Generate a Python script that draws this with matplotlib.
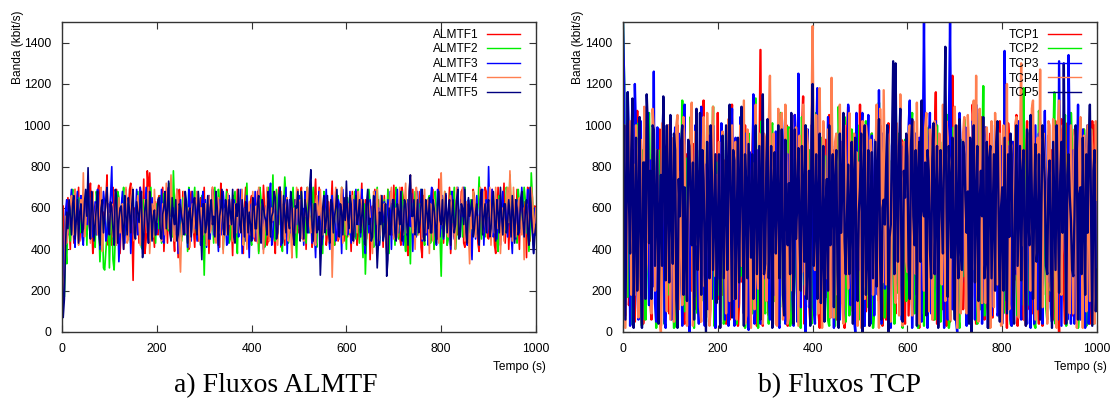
import numpy as np
import matplotlib
matplotlib.use("Agg")
import matplotlib.pyplot as plt

plt.rcParams['font.family'] = ['Liberation Sans', 'DejaVu Sans']

# ---- throughput samples (kbit/s) ----
# "*_a": samples at 0, 5, 10, ..., 1000 s ; "*_b": samples at 2.5, 7.5, ..., 997.5 s
almtf1_a = [60, 340, 590, 520, 660, 430, 610, 700, 560, 470, 640, 590, 720, 380, 520, 680, 610, 450, 560, 760,
            500, 420, 630, 690, 470, 540, 400, 610, 580, 720, 250, 470, 640, 700, 530, 380, 780, 770, 600, 410,
            520, 660, 450, 390, 610, 700, 560, 480, 640, 360, 590, 680, 520, 440, 620, 550, 410, 670, 590, 480,
            700, 530, 380, 600, 650, 470, 560, 720, 430, 510, 640, 580, 370, 620, 690, 500, 450, 600, 540, 410,
            660, 580, 470, 390, 620, 710, 520, 440, 600, 650, 380, 560, 700, 490, 420, 610, 550, 360, 640, 590,
            480, 700, 530, 400, 620, 560, 450, 740, 510, 380, 590, 650, 470, 540, 730, 420, 600, 510, 670, 440,
            560, 620, 390, 530, 680, 470, 590, 400, 640, 560, 350, 610, 690, 520, 440, 580, 660, 380, 500, 620,
            710, 480, 560, 420, 640, 590, 370, 530, 690, 450, 600, 680, 360, 570, 470, 640, 520, 400, 610, 740,
            500, 430, 620, 560, 380, 680, 590, 470, 540, 690, 410, 600, 520, 440, 650, 570, 390, 620, 500, 680,
            450, 610, 560, 380, 700, 520, 600, 430, 660, 560, 480, 610, 690, 400, 540, 630, 360, 580, 660, 420,
            600]
almtf1_b = [610, 480, 650, 400, 560, 690, 520, 440, 620, 580, 470, 660, 540, 430, 600, 710, 490, 580, 640, 420,
            560, 700, 470, 590, 380, 650, 530, 460, 690, 510, 600, 540, 430, 620, 740, 450, 680, 560, 500, 630,
            470, 590, 700, 520, 430, 640, 580, 390, 610, 690, 460, 540, 620, 400, 680, 500, 590, 440, 650, 570,
            430, 620, 560, 700, 480, 590, 410, 640, 560, 690, 450, 530, 660, 470, 580, 620, 380, 700, 500, 630,
            540, 440, 680, 560, 490, 600, 420, 670, 530, 460, 620, 700, 410, 580, 650, 480, 600, 530, 440, 690,
            620, 450, 590, 660, 500, 410, 640, 560, 700, 470, 540, 420, 630, 600, 500, 680, 440, 590, 560, 650,
            460, 540, 680, 610, 420, 590, 720, 520, 450, 650, 580, 480, 540, 640, 590, 410, 520, 690, 600, 470,
            560, 640, 460, 700, 530, 420, 660, 590, 480, 620, 540, 410, 660, 500, 600, 440, 690, 570, 450, 530,
            650, 580, 420, 700, 520, 460, 640, 590, 680, 430, 560, 620, 470, 690, 510, 430, 610, 540, 700, 460,
            580, 690, 420, 540, 610, 470, 720, 560, 400, 630, 590, 460, 540, 650, 480, 580, 700, 440, 530, 610]

almtf2_a = [80, 170, 330, 500, 620, 470, 560, 650, 520, 440, 600, 680, 490, 540, 410, 620, 340, 560, 300, 480,
            310, 600, 300, 520, 650, 560, 700, 470, 590, 430, 620, 540, 680, 470, 400, 590, 640, 510, 450, 560,
            620, 500, 430, 670, 560, 490, 610, 780, 540, 420, 580, 650, 470, 390, 600, 560, 700, 450, 520, 660,
            275, 480, 590, 640, 430, 560, 690, 510, 400, 600, 560, 450, 620, 680, 380, 540, 610, 470, 720, 560,
            420, 600, 530, 380, 640, 590, 460, 700, 520, 760, 440, 580, 650, 390, 750, 560, 470, 620, 540, 360,
            590, 680, 480, 430, 610, 540, 700, 460, 590, 520, 380, 630, 570, 480, 660, 420, 600, 540, 700, 470,
            400, 560, 630, 520, 450, 690, 580, 360, 280, 540, 620, 480, 590, 700, 430, 560, 640, 480, 380, 610,
            560, 700, 450, 520, 600, 390, 560, 330, 620, 680, 470, 540, 610, 420, 580, 660, 500, 400, 590, 640,
            270, 520, 600, 450, 680, 570, 400, 630, 540, 460, 700, 590, 480, 400, 620, 560, 750, 450, 530, 640,
            580, 470, 640, 560, 390, 620, 530, 480, 660, 760, 500, 580, 430, 620, 560, 700, 480, 390, 770, 520,
            590]
almtf2_b = [300, 420, 560, 440, 690, 540, 610, 480, 570, 640, 420, 560, 600, 470, 680, 520, 450, 310, 390, 600,
            520, 350, 460, 680, 540, 610, 470, 620, 520, 690, 450, 600, 530, 410, 640, 560, 480, 700, 610, 430,
            540, 660, 600, 480, 520, 720, 460, 600, 690, 550, 440, 560, 610, 700, 480, 630, 520, 600, 420, 540,
            520, 640, 450, 560, 700, 480, 620, 590, 500, 680, 430, 560, 650, 470, 620, 580, 420, 600, 520, 460,
            650, 480, 590, 700, 520, 410, 640, 560, 600, 480, 690, 520, 460, 610, 650, 430, 580, 700, 470, 590,
            460, 540, 620, 700, 480, 620, 540, 410, 650, 580, 680, 470, 540, 620, 430, 580, 660, 480, 590, 540,
            650, 470, 560, 680, 600, 430, 520, 620, 460, 690, 530, 410, 640, 560, 600, 450, 540, 690, 620, 480,
            420, 620, 580, 680, 460, 640, 500, 590, 460, 560, 620, 690, 470, 560, 640, 430, 600, 680, 520, 460,
            560, 680, 420, 600, 530, 700, 470, 560, 620, 690, 480, 540, 640, 680, 470, 600, 520, 620, 460, 570,
            640, 510, 580, 450, 660, 470, 600, 700, 530, 580, 640, 460, 690, 510, 600, 640, 560, 480, 650, 470]

almtf3_a = [100, 470, 640, 560, 690, 480, 610, 530, 660, 420, 590, 700, 520, 460, 630, 690, 400, 560, 620, 470,
            580, 800, 520, 430, 340, 600, 540, 690, 460, 380, 620, 560, 470, 700, 380, 590, 510, 440, 650, 560,
            480, 620, 690, 430, 540, 700, 450, 600, 520, 380, 640, 560, 480, 410, 620, 680, 500, 440, 590, 630,
            520, 410, 660, 580, 470, 600, 390, 560, 680, 540, 430, 610, 570, 450, 620, 520, 380, 600, 660, 360,
            620, 520, 440, 690, 560, 400, 610, 540, 720, 460, 590, 500, 700, 440, 560, 380, 640, 600, 470, 520,
            660, 540, 420, 600, 480, 690, 570, 360, 520, 620, 460, 590, 540, 400, 660, 580, 470, 620, 380, 560,
            600, 500, 430, 640, 690, 520, 460, 600, 380, 560, 640, 490, 680, 540, 420, 590, 630, 470, 550, 400,
            620, 560, 480, 680, 420, 560, 640, 510, 390, 600, 680, 530, 440, 640, 570, 470, 700, 560, 420, 600,
            540, 450, 660, 580, 400, 620, 520, 700, 460, 560, 620, 420, 580, 350, 600, 660, 480, 560, 420, 640,
            800, 520, 460, 620, 570, 420, 680, 540, 460, 600, 380, 640, 560, 480, 700, 500, 600, 430, 560, 380,
            470]
almtf3_b = [260, 590, 470, 620, 560, 410, 680, 590, 460, 640, 520, 580, 640, 550, 470, 620, 530, 680, 440, 620,
            660, 480, 600, 560, 460, 680, 430, 590, 620, 530, 450, 690, 550, 620, 480, 700, 430, 600, 560, 470,
            640, 540, 440, 610, 680, 520, 600, 470, 690, 550, 470, 620, 580, 690, 440, 560, 620, 540, 420, 680,
            640, 580, 450, 690, 560, 500, 640, 470, 600, 420, 660, 520, 640, 580, 460, 690, 560, 440, 520, 600,
            450, 680, 610, 480, 640, 570, 470, 650, 420, 610, 560, 660, 420, 620, 700, 540, 480, 430, 640, 580,
            450, 600, 680, 540, 640, 430, 500, 590, 680, 420, 560, 690, 470, 610, 520, 440, 640, 560, 690, 620,
            470, 680, 580, 460, 560, 620, 690, 440, 620, 480, 560, 650, 420, 600, 660, 530, 460, 640, 680, 590,
            460, 690, 600, 530, 610, 470, 540, 670, 600, 460, 540, 690, 610, 470, 420, 640, 520, 480, 690, 460,
            660, 600, 480, 530, 680, 450, 610, 560, 640, 700, 460, 640, 480, 600, 450, 540, 640, 690, 600, 480,
            560, 690, 520, 450, 640, 590, 520, 620, 690, 480, 600, 450, 640, 560, 610, 480, 690, 640, 500, 600]

almtf4_a = [120, 280, 430, 590, 660, 470, 560, 420, 640, 770, 520, 600, 430, 680, 550, 470, 610, 390, 560, 700,
            470, 620, 550, 420, 650, 580, 470, 700, 450, 560, 600, 500, 660, 420, 570, 640, 480, 380, 620, 690,
            530, 600, 440, 580, 720, 500, 760, 470, 600, 540, 290, 560, 650, 470, 410, 620, 560, 680, 440, 600,
            540, 420, 660, 500, 590, 430, 650, 560, 380, 600, 670, 520, 440, 620, 570, 480, 690, 520, 400, 630,
            560, 460, 610, 700, 500, 380, 580, 630, 470, 540, 680, 420, 600, 560, 450, 650, 520, 360, 600, 700,
            500, 620, 440, 560, 660, 480, 540, 420, 610, 690, 470, 560, 640, 500, 265, 540, 620, 450, 700, 560,
            470, 620, 540, 430, 600, 680, 500, 570, 420, 640, 560, 380, 610, 690, 470, 550, 620, 420, 580, 700,
            450, 600, 540, 660, 470, 720, 560, 760, 480, 400, 620, 560, 450, 690, 590, 380, 560, 640, 500, 430,
            770, 520, 600, 460, 660, 560, 400, 620, 540, 700, 440, 570, 330, 500, 640, 560, 420, 600, 680, 480,
            560, 420, 620, 700, 500, 380, 600, 560, 700, 780, 440, 580, 520, 650, 470, 350, 620, 560, 700, 480,
            600]
almtf4_b = [200, 560, 480, 620, 520, 690, 480, 600, 520, 460, 640, 540, 600, 460, 620, 540, 700, 480, 640, 540,
            600, 460, 680, 560, 480, 620, 560, 430, 620, 700, 440, 580, 520, 650, 480, 590, 700, 530, 460, 560,
            650, 500, 620, 470, 560, 640, 580, 440, 690, 420, 520, 680, 480, 600, 560, 480, 640, 520, 600, 470,
            620, 560, 480, 700, 450, 620, 480, 680, 560, 470, 540, 640, 560, 480, 650, 560, 420, 600, 560, 470,
            680, 560, 430, 560, 620, 520, 700, 440, 600, 620, 480, 560, 680, 470, 610, 440, 640, 560, 480, 600,
            640, 470, 600, 700, 520, 620, 460, 660, 520, 560, 620, 500, 440, 620, 480, 700, 540, 600, 430, 620,
            600, 480, 660, 560, 480, 600, 640, 460, 560, 620, 470, 680, 520, 440, 660, 600, 480, 520, 650, 600,
            560, 460, 700, 520, 620, 480, 690, 580, 560, 700, 470, 620, 560, 480, 640, 620, 440, 560, 610, 690,
            520, 680, 480, 600, 560, 480, 700, 450, 620, 560, 630, 480, 600, 680, 460, 560, 700, 480, 540, 620,
            700, 560, 480, 600, 640, 520, 440, 640, 530, 600, 700, 460, 620, 540, 600, 560, 470, 620, 650, 540]

almtf5_a = [480, 160, 580, 640, 470, 660, 540, 430, 620, 500, 690, 795, 450, 600, 520, 680, 420, 640, 560, 700,
            470, 600, 420, 660, 540, 610, 400, 560, 650, 480, 690, 450, 580, 620, 360, 600, 520, 680, 440, 590,
            540, 650, 450, 610, 500, 730, 440, 560, 640, 470, 600, 520, 680, 430, 600, 560, 650, 470, 590, 350,
            620, 520, 450, 640, 560, 680, 420, 600, 500, 640, 470, 580, 690, 430, 560, 520, 640, 460, 620, 580,
            440, 610, 500, 660, 430, 600, 540, 680, 460, 580, 650, 480, 700, 430, 570, 640, 500, 620, 420, 600,
            520, 680, 450, 600, 560, 785, 440, 620, 500, 275, 600, 480, 660, 430, 620, 560, 690, 460, 580, 650,
            730, 500, 620, 440, 660, 560, 480, 640, 420, 690, 550, 460, 620, 310, 580, 660, 480, 270, 600, 520,
            640, 440, 580, 680, 500, 620, 420, 760, 560, 470, 640, 520, 690, 440, 580, 650, 480, 600, 430, 680,
            520, 460, 670, 580, 420, 640, 520, 690, 470, 600, 690, 430, 560, 640, 500, 620, 420, 690, 560, 480,
            640, 500, 680, 440, 580, 700, 470, 620, 520, 560, 660, 430, 600, 500, 680, 460, 640, 420, 560, 380,
            520]
almtf5_b = [70, 420, 500, 560, 620, 450, 640, 580, 480, 630, 560, 520, 680, 440, 610, 480, 600, 480, 640, 520,
            630, 500, 690, 430, 600, 520, 660, 470, 580, 620, 480, 630, 530, 680, 470, 640, 430, 600, 560, 470,
            640, 460, 570, 680, 600, 480, 650, 520, 440, 620, 560, 470, 630, 580, 460, 640, 520, 680, 500, 620,
            480, 660, 600, 520, 460, 600, 560, 690, 470, 600, 640, 520, 460, 620, 690, 480, 560, 630, 480, 520,
            650, 500, 620, 480, 640, 560, 470, 610, 560, 680, 450, 600, 530, 660, 480, 540, 680, 470, 610, 680,
            440, 570, 640, 480, 700, 520, 620, 480, 560, 430, 660, 540, 480, 640, 480, 600, 520, 620, 470, 540,
            560, 660, 450, 590, 520, 640, 560, 470, 620, 520, 440, 660, 500, 430, 520, 440, 620, 350, 470, 640,
            480, 620, 520, 440, 640, 520, 680, 560, 640, 520, 480, 620, 460, 640, 500, 480, 640, 520, 620, 540,
            640, 560, 480, 640, 560, 480, 640, 450, 620, 520, 480, 650, 600, 460, 580, 480, 640, 470, 620, 600,
            460, 620, 540, 640, 480, 560, 620, 480, 640, 460, 560, 640, 470, 640, 540, 580, 480, 700, 480, 460]

tcp1_a = [1320, 80, 1010, 240, 760, 50, 1070, 320, 700, 120, 940, 410, 60, 880, 250, 640, 30, 990, 380, 820,
          150, 560, 90, 1000, 300, 720, 40, 860, 470, 200, 910, 110, 660, 350, 1120, 70, 780, 260, 540, 20,
          1060, 430, 180, 830, 500, 60, 1100, 290, 650, 140, 890, 370, 50, 750, 220, 1040, 410, 90, 1365, 30,
          680, 250, 960, 130, 570, 820, 40, 730, 310, 1000, 160, 600, 80, 870, 390, 120, 1140, 260, 700, 50,
          930, 330, 580, 20, 800, 450, 170, 1050, 280, 620, 60, 900, 360, 740, 110, 1090, 230, 510, 70, 840,
          1100, 190, 660, 380, 30, 960, 270, 720, 150, 880, 420, 60, 1010, 300, 570, 90, 830, 240, 690, 40,
          950, 350, 130, 780, 500, 20, 1060, 280, 640, 180, 900, 60, 1160, 340, 720, 110, 860, 410, 50, 1240,
          270, 600, 150, 920, 380, 80, 740, 300, 1010, 40, 680, 230, 880, 120, 560, 960, 70, 790, 330, 1020,
          180, 640, 20, 910, 400, 250, 1050, 140, 700, 60, 830, 360, 990, 90, 620, 280, 1000, 30, 760, 430,
          150, 880, 320, 600, 0, 1030, 210, 720, 90, 940, 380, 50, 1000, 260, 680, 130, 870, 40, 1020, 1000,
          760]
tcp1_b = [640, 420, 130, 880, 310, 600, 180, 940, 40, 520, 690, 150, 760, 420, 60, 980, 560, 210, 620, 90,
          840, 360, 700, 140, 910, 60, 480, 170, 1030, 620, 260, 780, 50, 940, 400, 580, 120, 880, 700, 310,
          160, 930, 620, 40, 760, 990, 180, 720, 30, 560, 240, 1000, 680, 120, 830, 460, 30, 740, 210, 590,
          930, 80, 420, 840, 260, 110, 970, 360, 620, 30, 810, 380, 1050, 220, 690, 960, 40, 520, 150, 880,
          220, 760, 90, 680, 150, 930, 610, 70, 880, 440, 820, 150, 570, 20, 960, 420, 800, 160, 980, 350,
          40, 720, 100, 870, 640, 110, 890, 490, 1000, 30, 680, 920, 230, 720, 1020, 480, 160, 930, 120, 780,
          80, 620, 910, 230, 130, 880, 530, 90, 760, 1000, 360, 880, 40, 660, 500, 960, 30, 700, 800, 150,
          880, 40, 680, 110, 700, 960, 460, 1100, 180, 770, 320, 1040, 60, 790, 240, 80, 560, 980, 120, 640,
          900, 360, 1010, 180, 680, 970, 30, 490, 820, 310, 1020, 110, 560, 700, 930, 40, 560, 940, 180, 950,
          640, 60, 1020, 170, 880, 400, 40, 1010, 560, 80, 870, 700, 130, 540, 980, 440, 160, 810, 240, 300]

tcp2_a = [1500, 380, 170, 940, 60, 620, 240, 810, 30, 700, 310, 1060, 140, 540, 20, 880, 360, 650, 90, 920,
          250, 480, 30, 840, 410, 1120, 100, 590, 270, 760, 20, 980, 330, 150, 700, 50, 860, 420, 1090, 130,
          620, 240, 910, 60, 530, 1050, 190, 750, 40, 880, 300, 640, 110, 960, 210, 570, 1130, 20, 800, 350,
          90, 720, 260, 1010, 150, 600, 40, 870, 380, 190, 990, 60, 700, 290, 830, 20, 580, 1000, 160, 670,
          1330, 80, 760, 310, 940, 120, 550, 30, 870, 260, 690, 1090, 140, 610, 50, 900, 360, 730, 100, 1000,
          220, 640, 30, 820, 380, 960, 110, 580, 1110, 40, 710, 280, 880, 70, 600, 1200, 190, 760, 20, 930,
          320, 520, 1060, 90, 700, 250, 860, 30, 640, 990, 140, 780, 360, 560, 50, 920, 210, 1050, 80, 690,
          300, 840, 20, 610, 1030, 170, 750, 60, 930, 280, 590, 110, 1190, 340, 700, 40, 860, 230, 960, 70,
          640, 1200, 180, 800, 30, 690, 360, 910, 130, 1180, 50, 720, 280, 840, 20, 590, 1010, 150, 860, 60,
          700, 260, 1160, 90, 610, 330, 880, 30, 750, 1060, 120, 640, 20, 950, 240, 780, 60, 870, 190, 540,
          830]
tcp2_b = [1200, 620, 780, 40, 850, 300, 1010, 120, 880, 60, 470, 580, 860, 420, 700, 100, 890, 40, 520, 180,
          760, 20, 960, 140, 660, 310, 840, 40, 1040, 380, 640, 90, 880, 560, 70, 1000, 240, 600, 30, 820,
          180, 730, 40, 960, 300, 560, 830, 60, 680, 270, 1000, 20, 780, 480, 90, 860, 380, 640, 1020, 120,
          790, 40, 990, 310, 820, 380, 1060, 120, 670, 990, 30, 560, 830, 170, 660, 1040, 230, 440, 880, 40,
          520, 1060, 120, 700, 380, 850, 60, 960, 480, 30, 470, 860, 250, 1040, 360, 80, 980, 310, 760, 60,
          930, 180, 1020, 120, 630, 20, 930, 410, 660, 880, 70, 1000, 320, 830, 40, 580, 960, 230, 640, 150,
          780, 960, 230, 740, 20, 890, 440, 980, 160, 530, 900, 60, 1000, 320, 780, 430, 970, 20, 640, 990,
          560, 70, 930, 270, 640, 900, 120, 540, 860, 40, 1060, 690, 80, 890, 20, 640, 420, 1010, 480, 860,
          90, 560, 920, 40, 620, 980, 80, 460, 900, 620, 830, 130, 960, 40, 740, 1070, 310, 510, 120, 920,
          180, 870, 40, 960, 340, 620, 1050, 180, 360, 880, 500, 860, 120, 520, 980, 30, 600, 980, 40, 680]

tcp3_a = [1500, 140, 1160, 30, 880, 1200, 250, 720, 60, 990, 410, 130, 760, 1260, 50, 640, 300, 1080, 20, 870,
          210, 560, 990, 80, 740, 30, 1100, 350, 0, 930, 170, 680, 40, 1090, 260, 810, 110, 520, 1000, 20,
          690, 380, 900, 60, 760, 200, 1080, 30, 620, 340, 960, 90, 800, 10, 720, 1150, 150, 880, 40, 590,
          270, 1000, 60, 830, 180, 740, 20, 1040, 300, 650, 100, 910, 30, 780, 1250, 120, 600, 0, 980, 250,
          700, 40, 1180, 160, 820, 60, 630, 330, 1000, 20, 760, 190, 920, 50, 690, 1100, 130, 850, 0, 640,
          360, 1060, 30, 790, 210, 950, 80, 680, 1170, 40, 860, 260, 720, 20, 1000, 150, 600, 980, 60, 820,
          300, 1120, 20, 700, 180, 940, 50, 1500, 230, 800, 90, 640, 1020, 30, 750, 270, 920, 60, 1500, 110,
          820, 0, 1060, 240, 690, 30, 940, 170, 780, 1100, 60, 620, 320, 990, 20, 860, 200, 1000, 80, 720,
          40, 1360, 150, 900, 30, 740, 280, 1020, 60, 830, 190, 960, 20, 680, 1000, 110, 870, 40, 1070, 240,
          760, 50, 920, 180, 1310, 30, 700, 260, 1340, 40, 880, 150, 1100, 60, 980, 20, 1000, 180, 820, 500,
          850]
tcp3_b = [1200, 420, 900, 560, 120, 960, 60, 1020, 330, 480, 1060, 830, 220, 140, 990, 420, 860, 50, 580, 1000,
          60, 830, 250, 960, 420, 780, 180, 640, 900, 620, 1000, 240, 820, 680, 30, 540, 950, 160, 740, 560,
          260, 1010, 470, 880, 30, 860, 480, 940, 120, 1040, 440, 960, 230, 870, 560, 40, 700, 540, 930, 260,
          690, 180, 700, 420, 970, 60, 600, 910, 40, 860, 720, 160, 1050, 50, 440, 880, 300, 970, 120, 1000,
          120, 910, 260, 650, 960, 190, 1040, 160, 740, 900, 530, 60, 840, 560, 280, 940, 560, 60, 1060, 300,
          940, 30, 580, 1050, 40, 700, 930, 180, 540, 960, 210, 1000, 30, 900, 560, 950, 220, 60, 900, 410,
          990, 660, 380, 960, 640, 110, 880, 760, 20, 1060, 420, 880, 210, 900, 560, 20, 700, 1000, 820, 920,
          60, 640, 880, 420, 990, 680, 60, 1020, 60, 690, 820, 40, 880, 600, 700, 80, 560, 930, 100, 900,
          250, 880, 620, 60, 920, 400, 640, 130, 830, 560, 40, 730, 880, 40, 560, 960, 330, 680, 560, 920,
          120, 1000, 600, 60, 640, 900, 560, 60, 900, 620, 40, 760, 600, 840, 360, 900, 40, 960, 120, 260]

tcp4_a = [880, 20, 600, 1020, 380, 180, 760, 540, 40, 1090, 330, 680, 90, 970, 460, 230, 0, 820, 400, 1000,
          60, 720, 260, 1050, 500, 130, 900, 30, 650, 1110, 200, 830, 580, 50, 1040, 380, 740, 110, 1090, 270,
          600, 20, 970, 440, 820, 150, 1000, 560, 60, 700, 320, 1120, 80, 880, 20, 640, 1100, 210, 770, 40,
          930, 360, 1240, 130, 690, 30, 520, 1060, 240, 820, 70, 850, 410, 990, 30, 720, 1100, 180, 900, 50,
          1480, 300, 620, 1180, 20, 810, 260, 560, 1230, 70, 960, 340, 720, 40, 780, 210, 880, 100, 600, 30,
          700, 1020, 160, 940, 60, 820, 380, 1100, 20, 760, 1170, 230, 900, 50, 1020, 140, 680, 1150, 30, 860,
          290, 1000, 80, 740, 1110, 40, 920, 200, 1060, 100, 820, 360, 990, 30, 700, 1100, 150, 940, 60, 860,
          1090, 20, 770, 260, 1040, 90, 900, 320, 1120, 1240, 50, 780, 1010, 140, 880, 20, 700, 1060, 230, 960,
          40, 820, 1200, 110, 900, 300, 1040, 70, 1300, 760, 30, 880, 200, 1120, 60, 940, 1270, 120, 800, 40,
          1000, 270, 860, 20, 1120, 180, 960, 50, 840, 1000, 90, 920, 280, 1040, 20, 800, 1000, 150, 900, 40,
          640]
tcp4_b = [1000, 320, 960, 180, 810, 1000, 70, 930, 640, 260, 880, 570, 1080, 200, 880, 60, 1010, 620, 100, 540,
          940, 50, 1000, 110, 780, 1040, 340, 520, 1000, 30, 970, 420, 120, 840, 220, 1060, 30, 880, 450, 760,
          920, 340, 600, 90, 1030, 580, 160, 920, 660, 1000, 720, 40, 980, 460, 820, 110, 300, 960, 420, 960,
          150, 1000, 620, 960, 40, 1080, 880, 60, 1100, 40, 980, 200, 640, 500, 950, 290, 520, 980, 310, 980,
          800, 1050, 90, 560, 1020, 480, 980, 70, 700, 920, 180, 1100, 140, 1000, 420, 1060, 300, 960, 870, 820,
          20, 520, 1000, 240, 930, 180, 820, 400, 1080, 240, 680, 960, 420, 860, 300, 1010, 80, 520, 920, 340,
          960, 240, 1020, 280, 600, 860, 440, 990, 360, 980, 60, 1020, 620, 960, 230, 520, 1020, 310, 820, 480,
          620, 1000, 90, 960, 300, 1050, 200, 980, 300, 180, 1080, 140, 530, 990, 420, 1020, 120, 820, 780, 30,
          1000, 360, 170, 920, 560, 990, 230, 900, 420, 60, 970, 580, 1080, 600, 800, 480, 330, 960, 540, 1020,
          200, 1030, 200, 1000, 620, 1000, 880, 640, 90, 560, 980, 20, 880, 560, 950, 100, 580, 980, 320, 1020]

tcp5_a = [440, 60, 1160, 380, 1130, 520, 200, 1040, 20, 820, 1150, 430, 160, 980, 600, 40, 760, 1140, 250, 690,
          1050, 330, 880, 20, 560, 1000, 700, 150, 900, 420, 60, 1080, 540, 180, 740, 0, 620, 1000, 300, 860,
          470, 20, 950, 640, 300, 1100, 70, 830, 520, 240, 1090, 30, 710, 910, 360, 160, 1000, 580, 60, 1150,
          330, 1030, 480, 20, 870, 640, 260, 980, 80, 560, 720, 1060, 40, 450, 890, 200, 680, 1000, 320, 30,
          1200, 520, 160, 960, 380, 50, 740, 1000, 610, 120, 880, 20, 480, 1060, 280, 810, 560, 40, 940, 150,
          700, 0, 1000, 360, 30, 870, 580, 220, 1030, 60, 640, 790, 0, 520, 1310, 1300, 340, 1080, 50, 650,
          850, 160, 1030, 420, 30, 920, 1120, 560, 80, 780, 260, 1010, 640, 20, 880, 380, 1380, 170, 720, 940,
          60, 530, 1030, 300, 860, 480, 40, 0, 1000, 640, 150, 780, 1040, 360, 20, 900, 560, 200, 1020, 50,
          700, 940, 90, 460, 860, 40, 1000, 620, 250, 880, 30, 540, 1050, 160, 910, 420, 60, 1000, 720, 280,
          830, 20, 600, 1000, 190, 920, 1300, 40, 860, 540, 270, 1000, 60, 700, 940, 180, 480, 1100, 30, 880,
          300]
tcp5_b = [1000, 620, 640, 880, 20, 940, 600, 270, 820, 160, 990, 780, 1000, 320, 880, 560, 320, 860, 1000, 240,
          560, 960, 160, 740, 920, 180, 380, 930, 640, 820, 600, 300, 1060, 880, 380, 920, 260, 760, 580, 140,
          860, 520, 260, 1000, 780, 600, 880, 160, 940, 700, 500, 860, 260, 640, 860, 660, 280, 900, 740, 280,
          820, 260, 900, 690, 380, 1000, 560, 180, 930, 420, 280, 640, 980, 620, 460, 900, 340, 160, 780, 920,
          320, 860, 660, 140, 900, 600, 200, 420, 860, 740, 300, 960, 700, 440, 560, 280, 920, 760, 320, 580,
          960, 740, 180, 880, 620, 260, 920, 800, 340, 600, 520, 1000, 460, 920, 280, 700, 900, 320, 780, 960,
          320, 900, 560, 880, 780, 340, 600, 820, 880, 400, 840, 280, 900, 660, 560, 920, 600, 900, 360, 300,
          1000, 260, 400, 920, 640, 680, 940, 880, 240, 900, 620, 560, 260, 920, 840, 260, 860, 920, 560, 600,
          200, 520, 860, 960, 260, 660, 320, 900, 760, 360, 980, 420, 660, 640, 340, 860, 560, 880, 320, 740,
          420, 920, 300, 620, 760, 480, 620, 760, 660, 300, 560, 880, 660, 280, 520, 860, 900, 560, 780, 100]

almtf_labels = ["ALMTF1", "ALMTF2", "ALMTF3", "ALMTF4", "ALMTF5"]
tcp_labels = ["TCP1", "TCP2", "TCP3", "TCP4", "TCP5"]
series_colors = ["#ff0000", "#00ee00", "#0000ff", "#ff7f50", "#000080"]
x_ticks = [0, 200, 400, 600, 800, 1000]
y_ticks = [0, 200, 400, 600, 800, 1000, 1200, 1400]


def merge(a, b):
    """Combine the two sample sets into one time-ordered series."""
    ta = np.linspace(0, 1000, len(a))
    tb = np.linspace(2.5, 997.5, len(b))
    t = np.concatenate([ta, tb])
    v = np.concatenate([np.asarray(a, float), np.asarray(b, float)])
    order = np.argsort(t, kind="stable")
    return t[order], v[order]


almtf_series = [merge(almtf1_a, almtf1_b), merge(almtf2_a, almtf2_b),
                merge(almtf3_a, almtf3_b), merge(almtf4_a, almtf4_b),
                merge(almtf5_a, almtf5_b)]
tcp_series = [merge(tcp1_a, tcp1_b), merge(tcp2_a, tcp2_b),
              merge(tcp3_a, tcp3_b), merge(tcp4_a, tcp4_b),
              merge(tcp5_a, tcp5_b)]

W, H = 1118, 412
fig = plt.figure(figsize=(W / 100, H / 100), dpi=100)
frame_color = "#333333"


def panel(left, series, labels, title, title_x, ylabel_x, lw):
    ax = fig.add_axes([left / W, (H - 332) / H, 474 / W, 310 / H])
    for (t, v), lab, col in zip(series, labels, series_colors):
        ax.plot(t, v, color=col, lw=lw, label=lab)
    ax.set_xlim(0, 1000)
    ax.set_ylim(0, 1500)
    ax.set_xticks(x_ticks)
    ax.set_yticks(y_ticks)
    ax.tick_params(direction="in", top=True, right=True, length=5, width=0.8,
                   color=frame_color, labelsize=8.8, pad=8)
    for s in ax.spines.values():
        s.set_color(frame_color)
        s.set_linewidth(1.0)
    leg = ax.legend(loc="upper right", bbox_to_anchor=(1 - 11 / 474, 1 - 2 / 310),
                    borderaxespad=0, frameon=False, fontsize=8.6,
                    markerfirst=False, handlelength=2.8, handletextpad=0.7,
                    labelspacing=0.22)
    for h in leg.get_lines():
        h.set_linewidth(1.0)
    fig.text(ylabel_x / W, 1 - 10 / H, "Banda (kbit/s)", rotation=90,
             ha="center", va="top", fontsize=8.6)
    fig.text((left + 484) / W, 1 - 367 / H, "Tempo (s)", ha="right",
             va="center", fontsize=8.6)
    fig.text(title_x / W, 1 - 392 / H, title, ha="center", va="baseline",
             fontsize=20, family="Liberation Serif")
    return ax


panel(62, almtf_series, almtf_labels, "a) Fluxos ALMTF", 276, 18, 1.2)
panel(623, tcp_series, tcp_labels, "b) Fluxos TCP", 840, 578, 1.7)

fig.savefig("out.png", dpi=100)
